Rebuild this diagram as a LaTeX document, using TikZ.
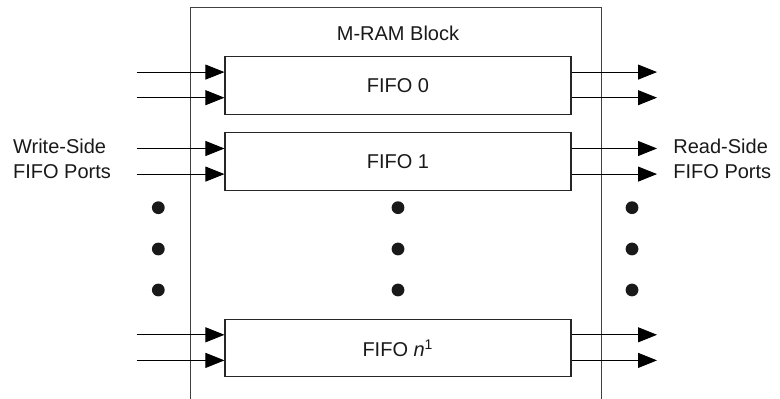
\documentclass[tikz,border=0pt]{standalone}
\usepackage{fontspec}
\setmainfont{Liberation Sans}
\usepackage{tikz}
\usetikzlibrary{positioning}
\usetikzlibrary{arrows.meta}

\begin{document}
\begin{tikzpicture}[
            x = 0.5pt, y = -0.5pt, % one unit is one pixel of the reference
            > = {Triangle[length=9.5pt, width=7.5pt]}, % arrow head style
            node distance = 8.85pt, % gap between fifo boxes
            font = \fontsize{10}{12.5}\selectfont,
            text = black!90,
            thin
        ]

        \tikzstyle{fifo}=[
            draw = black!85,
            line width = 0.55pt,
            minimum width = 173pt,
            minimum height = 28.8pt,
            inner sep = 0pt
        ]
        \tikzstyle{dot}=[
            circle,
            fill = black!90,
            minimum size = 6.4pt,
            inner sep = 0pt
        ]

        \useasboundingbox (0,0) rectangle (780,399);

	% M-RAM BLOCK
        \draw[black!75, line width = 0.65pt] (190.7,399) -- (190.7,7.5) -- (601.7,7.5) -- (601.7,399);
        \node (MRAM) at (398,33) {M-RAM Block};

	% FIFO BOXES
        \node[fifo] (F0) at (398,85.3) {FIFO 0};
        \node[fifo] (F1) [below = of F0] {FIFO 1};
        \node[fifo] (FN) [below = 63.8pt of F1] {FIFO \textit{n}\textsuperscript{1}};

	% WRITE-SIDE AND READ-SIDE PORTS
        \foreach \f in {F0,F1,FN} {
            \coordinate (\f-wa) at ([yshift=6.6pt]\f.west -| 136.7,0);
            \coordinate (\f-wb) at ([yshift=-6.2pt]\f.west -| 136.7,0);
            \coordinate (\f-ra) at ([yshift=6.6pt]\f.east -| 657,0);
            \coordinate (\f-rb) at ([yshift=-6.2pt]\f.east -| 657,0);
            \draw[->] (\f-wa) -- (\f-wa -| \f.west);
            \draw[->] (\f-wb) -- (\f-wb -| \f.west);
            \draw[->] (\f-ra -| \f.east) -- (\f-ra);
            \draw[->] (\f-rb -| \f.east) -- (\f-rb);
        }

        \node (WS) [anchor = west, align = left, inner sep = 0pt] at (12.7,159) {Write-Side\\FIFO Ports};
        \node (RS) [anchor = west, align = left, inner sep = 0pt] at (673,159) {Read-Side\\FIFO Ports};

	% DOTS
        \foreach \y [count=\i] in {207.7,249,290} {
            \node[dot] (DL\i) at (158.3,\y) {};
            \node[dot] (DM\i) at (398,\y) {};
            \node[dot] (DR\i) at (632,\y) {};
        }

  \end{tikzpicture}
\end{document}
